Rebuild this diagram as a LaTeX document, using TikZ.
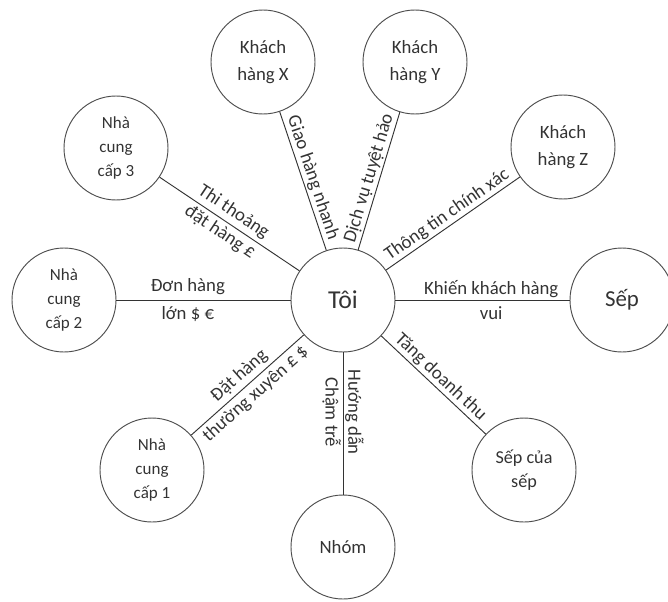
\documentclass[tikz,border=0pt]{standalone}
\usepackage{fontspec}
\setmainfont{Carlito}
\usepackage{tikz}

\tikzset{
    bubble/.style={circle, draw=black!70, line width=0.8pt, minimum size=3.12cm, inner sep=0pt,
        align=center, text=black!80, font=\fontsize{16}{23}\selectfont},
    link/.style={draw=black!80, line width=0.8pt},
    tag/.style={text=black!80, font=\fontsize{16}{21}\selectfont, align=center, inner sep=1.5pt}
}

\begin{document}
\begin{tikzpicture}
        \useasboundingbox (-10.29,-9.03) rectangle (9.75,9.0);

        \node[bubble, font=\fontsize{22}{26}\selectfont] (toi) at (0,0) {Tôi};

        \node[bubble] (kx) at (-2.40,7.14) {Khách\\hàng X};
        \node[bubble] (ky) at (2.16,7.14) {Khách\\hàng Y};
        \node[bubble] (kz) at (6.60,4.59) {Khách\\hàng Z};
        \node[bubble, font=\fontsize{19.5}{23}\selectfont] (sep) at (8.37,0) {Sếp};
        \node[bubble, font=\fontsize{15.5}{20.5}\selectfont] (sepsep) at (5.43,-5.10) {Sếp của\\sếp};
        \node[bubble] (nhom) at (0,-7.41) {Nhóm};
        \node[bubble, font=\fontsize{14.5}{20.5}\selectfont] (ncc1) at (-5.73,-5.10) {Nhà\\cung\\cấp 1};
        \node[bubble, font=\fontsize{14.5}{20.5}\selectfont] (ncc2) at (-8.37,0) {Nhà\\cung\\cấp 2};
        \node[bubble, font=\fontsize{14.5}{20.5}\selectfont] (ncc3) at (-6.81,4.56) {Nhà\\cung\\cấp 3};

        \draw[link] (kx) -- node[tag, sloped, above] {Giao hàng nhanh} (toi);
        \draw[link] (toi) -- node[tag, sloped, above] {Dịch vụ tuyệt hảo} (ky);
        \draw[link] (toi) -- node[tag, sloped, above] {Thông tin chính xác} (kz);
        \draw[link] (toi) -- node[tag, pos=0.55] {Khiến khách hàng\\vui} (sep);
        \draw[link] (toi) -- node[tag, sloped, above] {Tăng doanh thu} (sepsep);
        \draw[link] (toi) -- node[tag, pos=0.42, rotate=-90, anchor=south] {Hướng dẫn}
                             node[tag, pos=0.42, rotate=-90, anchor=north] {Chậm trễ} (nhom);
        \draw[link] (ncc1) -- node[tag, sloped] {Đặt hàng\\thường xuyên £ \$} (toi);
        \draw[link] (ncc2) -- node[tag, pos=0.41, font=\fontsize{16}{24}\selectfont] {Đơn hàng\\lớn \$ €} (toi);
        \draw[link] (ncc3) -- node[tag, sloped, pos=0.48] {Thi thoảng\\đặt hàng £} (toi);
\end{tikzpicture}
\end{document}
